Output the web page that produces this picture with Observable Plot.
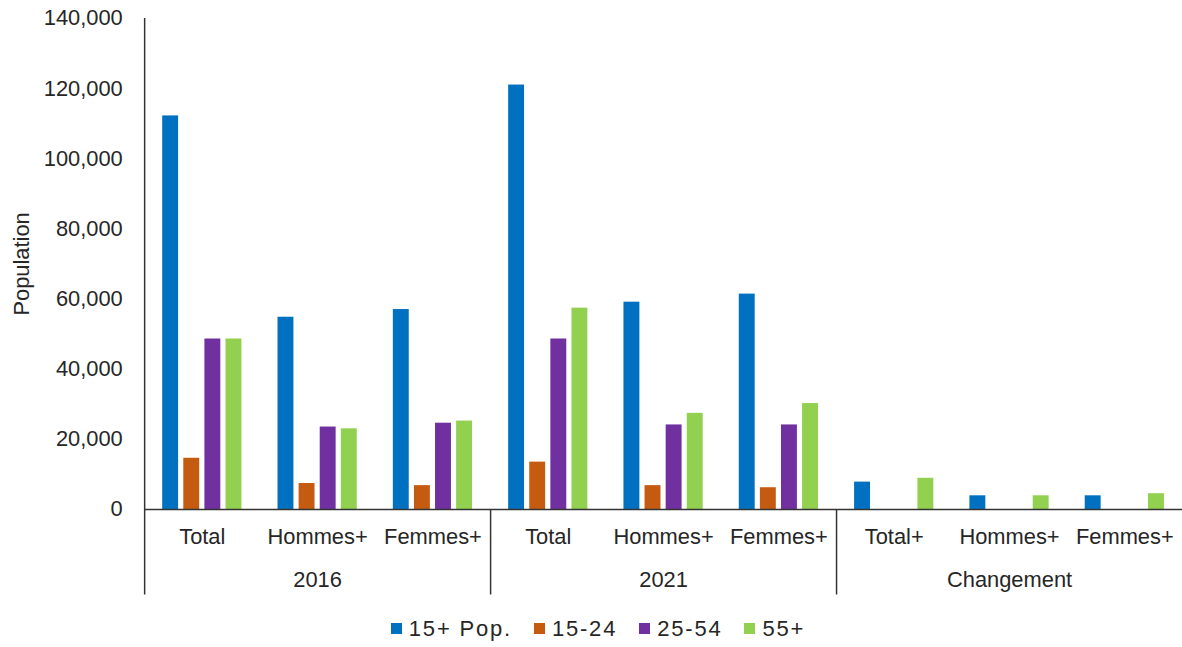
<!DOCTYPE html>
<html>
<head>
<meta charset="utf-8">
<script src="https://cdn.jsdelivr.net/npm/d3@7"></script>
<script src="https://cdn.jsdelivr.net/npm/@observablehq/plot@0.6"></script>
<style>
  html, body { margin: 0; padding: 0; background: #fff; overflow: hidden; width: 1182px; height: 647px; }
  #chart svg { display: block; }
  #legend { width: 1182px; height: 35px; box-sizing: border-box; padding-left: 14px; padding-top: 6px;
    display: flex; justify-content: center; align-items: center; gap: 22px;
    font-family: "Liberation Sans", Arial, sans-serif; font-size: 22px; letter-spacing: 1.8px; color: #262626; }
  .item { display: flex; align-items: center; gap: 7px; }
  .sw { width: 11px; height: 11px; display: inline-block; }
</style>
</head>
<body>
<div id="chart"></div>
<div id="legend"></div>
<script>
// ---- data ----
const categories = ["Total", "Hommes+", "Femmes+", "Total", "Hommes+", "Femmes+", "Total+", "Hommes+", "Femmes+"];
const groups = ["2016", "2021", "Changement"];
const series = ["15+ Pop.", "15-24", "25-54", "55+"];
const colors = ["#0070C0", "#C55A11", "#7030A0", "#92D050"];
const pop15 = [112200, 54800, 57000, 121000, 59100, 61400, 7800, 3900, 3900];
const age1524 = [14600, 7400, 6800, 13500, 6800, 6200, null, null, null];
const age2554 = [48600, 23500, 24600, 48600, 24100, 24100, null, null, null];
const age55 = [48600, 23000, 25200, 57400, 27400, 30200, 8900, 3900, 4500];
const yTicks = [0, 20000, 40000, 60000, 80000, 100000, 120000, 140000];

// ---- table ----
const valuesBySeries = [pop15, age1524, age2554, age55];
const rows = [];
valuesBySeries.forEach((vals, si) => {
  vals.forEach((v, ci) => {
    if (v != null) rows.push({ci, si, series: series[si], value: v});
  });
});
const catRows = categories.map((label, ci) => ({ci, label}));
const groupRows = groups.map((label, gi) => ({gi, label}));

const STEP = 0.183;  // bar step within a category (category = 1 unit)
const BW = 0.138;    // bar width
const font = "Liberation Sans, Arial, sans-serif";
const ink = "#262626";

const chart = Plot.plot({
  width: 1189,
  height: 612,
  marginLeft: 145,
  marginRight: 0,
  marginTop: 18,
  marginBottom: 100,
  style: {fontFamily: font, background: "white", overflow: "visible"},
  x: {domain: [0, categories.length], axis: null},
  y: {domain: [0, 140000], axis: null},
  color: {domain: series, range: colors},
  marks: [
    Plot.rect(rows, {
      x1: d => d.ci + 0.5 + (d.si - 1.5) * STEP - BW / 2,
      x2: d => d.ci + 0.5 + (d.si - 1.5) * STEP + BW / 2,
      y1: 0,
      y2: "value",
      fill: "series"
    }),
    Plot.axisY({
      ticks: yTicks, tickSize: 0, tickPadding: 22, tickFormat: d3.format(","),
      fontSize: 22, fill: ink,
      label: "Population", labelAnchor: "center", labelArrow: "none", labelOffset: 132
    }),
    Plot.ruleY([0], {stroke: "#333", strokeWidth: 1.5}),
    Plot.ruleX([0], {stroke: "#333", strokeWidth: 1.5, insetBottom: -86}),
    Plot.ruleX([3, 6], {y: 0, stroke: "#333", strokeWidth: 1.5, insetBottom: -86}),
    Plot.text(catRows, {x: d => d.ci + 0.5, y: 0, text: "label", dy: 28, fontSize: 22, fill: ink}),
    Plot.text(groupRows, {x: d => d.gi * 3 + 1.5, y: 0, text: "label", dy: 71, fontSize: 22, fill: ink})
  ]
});
document.getElementById("chart").appendChild(chart);

// ---- legend ----
const legend = document.getElementById("legend");
series.forEach((s, i) => {
  const item = document.createElement("div");
  item.className = "item";
  const sw = document.createElement("span");
  sw.className = "sw";
  sw.style.background = colors[i];
  const t = document.createElement("span");
  t.textContent = s;
  item.appendChild(sw);
  item.appendChild(t);
  legend.appendChild(item);
});
</script>
</body>
</html>
